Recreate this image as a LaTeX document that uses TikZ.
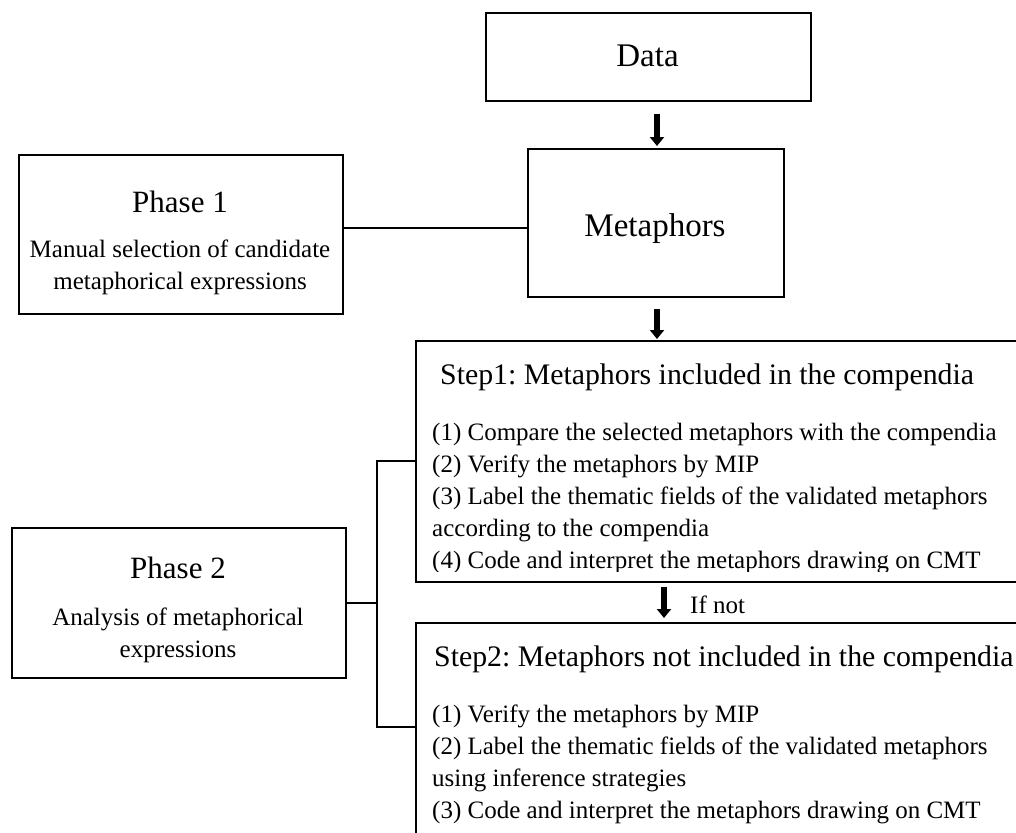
\documentclass[tikz,border=0pt]{standalone}
\usepackage{fontspec}
\setmainfont{Liberation Serif}
\usetikzlibrary{arrows.meta}
\newcommand\fsz[1]{\fontsize{#1}{#1}\selectfont\frenchspacing}
\begin{document}
\begin{tikzpicture}[x=1pt,y=-1pt,
  box/.style={draw=black,line width=1.6pt,rectangle,inner sep=0pt,anchor=north west},
  conn/.style={draw=black,line width=1.5pt},
  bigarrow/.style={draw=black,line width=6.5pt,-{Triangle[width=14pt,length=9pt]}},
  txt/.style={inner sep=0pt,anchor=base},
  ltxt/.style={inner sep=0pt,anchor=base west},
  big/.style={font=\fsz{33}},
  ttl/.style={font=\fsz{31}},
  sttl/.style={font=\fsz{29.8}},
  body/.style={font=\fsz{25}}]
\useasboundingbox (0,0) rectangle (1016,832);
\clip (0,0) rectangle (1016,832);

% boxes
\node[box,minimum width=325pt,minimum height=88pt]  (data) at (485,12) {};
\node[box,minimum width=256pt,minimum height=148pt] (meta) at (527,148) {};
\node[box,minimum width=324pt,minimum height=159pt] (p1)   at (18,154) {};
\node[box,minimum width=334pt,minimum height=150pt] (p2)   at (11,527) {};
\node[box,minimum width=700pt,minimum height=241pt] (s1)   at (415,340) {};
\node[box,minimum width=700pt,minimum height=260pt] (s2)   at (415,622) {};

% texts
\node[txt,big] (tdata) at (647.5,67) {Data};
\node[txt,big] (tmeta) at (655,236) {Metaphors};
\node[txt,ttl]  (tp1)  at (180,212) {Phase 1};
\node[txt,body] (tp1a) at (180,257) {Manual selection of candidate};
\node[txt,body] (tp1b) at (180,289) {metaphorical expressions};
\node[txt,ttl]  (tp2)  at (178,578) {Phase 2};
\node[txt,body] (tp2a) at (178,625) {Analysis of metaphorical};
\node[txt,body] (tp2b) at (178,657) {expressions};

\begin{scope}
\clip (415,340) rectangle (1016,571);
\node[ltxt,sttl] (ts1)  at (440,384) {Step1: Metaphors included in the compendia};
\node[ltxt,body] (ts1a) at (432,440) {(1) Compare the selected metaphors with the compendia};
\node[ltxt,body] (ts1b) at (432,472) {(2) Verify the metaphors by MIP};
\node[ltxt,body] (ts1c) at (432,504) {(3) Label the thematic fields of the validated metaphors};
\node[ltxt,body] (ts1d) at (432,536) {according to the compendia};
\node[ltxt,body] (ts1e) at (432,568) {(4) Code and interpret the metaphors drawing on CMT};
\end{scope}

\node[ltxt,sttl] (ts2)  at (434,666) {Step2: Metaphors not included in the compendia};
\node[ltxt,body] (ts2a) at (432,722) {(1) Verify the metaphors by MIP};
\node[ltxt,body] (ts2b) at (432,754) {(2) Label the thematic fields of the validated metaphors};
\node[ltxt,body] (ts2c) at (432,786) {using inference strategies};
\node[ltxt,body] (ts2d) at (432,818) {(3) Code and interpret the metaphors drawing on CMT};

\node[ltxt,body] (ifnot) at (690,613) {If not};

% arrows
\coordinate (ax) at (657,0);
\coordinate (ax2) at (664,0);
\draw[bigarrow,shorten <=12pt,shorten >=2pt] (ax |- data.south) -- (ax |- meta.north);
\draw[bigarrow,shorten <=11pt,shorten >=1pt] (ax |- meta.south) -- (ax |- s1.north);
\draw[bigarrow,shorten <=4pt,shorten >=4pt] (ax2 |- s1.south) -- (ax2 |- s2.north);

% connectors
\coordinate (l1) at (0,228);
\draw[conn] (p1.east |- l1) -- (meta.west |- l1);
\coordinate (b1) at (377,461);
\coordinate (b2) at (377,727);
\draw[conn] (s1.west |- b1) -- (b1) -- (b2) -- (s2.west |- b2);
\draw[conn] (p2.east) -- (b1 |- p2.east);
\end{tikzpicture}
\end{document}
